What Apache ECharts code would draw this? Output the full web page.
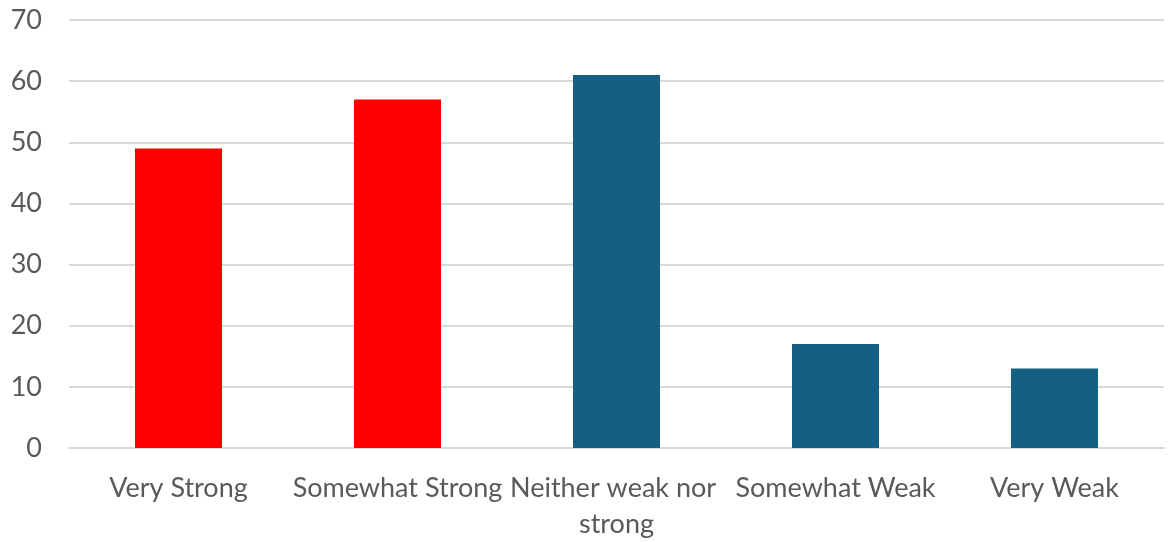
<!DOCTYPE html>
<html>
<head>
<meta charset="utf-8">
<script src="https://cdn.jsdelivr.net/npm/echarts@6/dist/echarts.min.js"></script>
<style>
  html, body { margin: 0; padding: 0; background: #fff; }
  #chart { width: 1168px; height: 542px; }
</style>
</head>
<body>
<div id="chart"></div>
<script>
// Responses by strength rating
const categories = ['Very Strong', 'Somewhat Strong', 'Neither weak nor strong', 'Somewhat Weak', 'Very Weak'];
const values = [49, 57, 61, 17, 13];
const barColors = ['#FF0000', '#FF0000', '#156082', '#156082', '#156082'];

const labelFont = 'Lato, "Open Sans", sans-serif';

const chart = echarts.init(document.getElementById('chart'));
chart.setOption({
  animation: false,
  grid: { left: 69, right: 4, top: 20, bottom: 90, containLabel: false },
  xAxis: {
    type: 'category',
    data: categories,
    axisTick: { show: false },
    axisLine: { show: true, lineStyle: { color: '#d9d9d9', width: 2 } },
    axisLabel: {
      color: '#595959',
      fontFamily: labelFont,
      fontSize: 27,
      margin: 22,
      lineHeight: 36,
      width: 214,
      overflow: 'break',
      interval: 0
    }
  },
  yAxis: {
    type: 'value',
    min: 0,
    max: 70,
    interval: 10,
    axisLine: { show: false },
    axisTick: { show: false },
    splitLine: { lineStyle: { color: '#d9d9d9', width: 2 } },
    axisLabel: {
      color: '#595959',
      fontFamily: labelFont,
      fontSize: 27,
      margin: 27
    }
  },
  series: [{
    type: 'bar',
    barWidth: 87,
    data: values.map((v, i) => ({ value: v, itemStyle: { color: barColors[i] } }))
  }]
});
</script>
</body>
</html>
